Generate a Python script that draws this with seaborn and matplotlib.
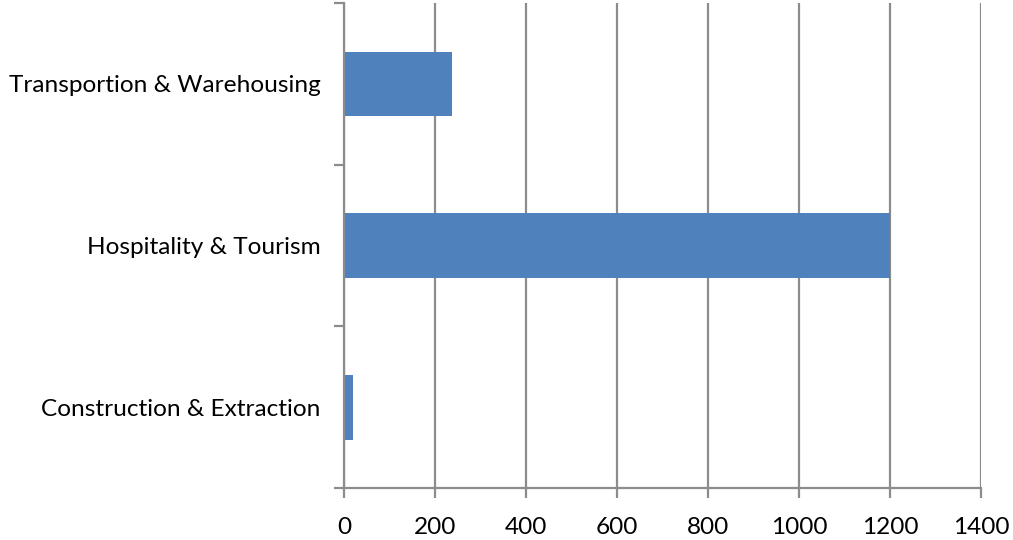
import matplotlib
matplotlib.use("Agg")
import matplotlib.pyplot as plt
import seaborn as sns
import pandas as pd
from matplotlib.ticker import FixedLocator

# data
sectors = ["Transportion & Warehousing", "Hospitality & Tourism", "Construction & Extraction"]
jobs = [237, 1200, 20]
x_ticks = [0, 200, 400, 600, 800, 1000, 1200, 1400]

df = pd.DataFrame({"sector": sectors, "jobs": jobs})

sns.set_theme(style="white")
plt.rcParams["font.family"] = ["Lato", "DejaVu Sans"]

fig = plt.figure(figsize=(10.13, 5.4), dpi=100)
ax = fig.add_axes([344 / 1013, 1 - 488 / 540, (981 - 344) / 1013, (488 - 3) / 540])

sns.barplot(data=df, x="jobs", y="sector", order=sectors, color="#4f81bd",
            width=0.4, saturation=1, linewidth=0, ax=ax, zorder=3)

grid_col = "#8c8c8c"
ax.set_xlim(0, 1400)
ax.set_ylim(2.5, -0.5)
ax.set_xticks(x_ticks)
ax.set_xticklabels([str(v) for v in x_ticks])
ax.xaxis.grid(True, color=grid_col, linewidth=1.6, zorder=0)
ax.set_axisbelow(True)

# category boundary ticks on the y axis
ax.yaxis.set_minor_locator(FixedLocator([-0.5, 0.5, 1.5, 2.5]))
ax.tick_params(axis="y", which="major", length=0, pad=17, labelsize=17.6, labelcolor="black")
ax.tick_params(axis="y", which="minor", left=True, length=7, width=1.6, color=grid_col)
ax.tick_params(axis="x", which="major", bottom=True, length=7, width=1.6, color=grid_col,
               pad=14, labelsize=17.6, labelcolor="black")

for side in ["top", "right"]:
    ax.spines[side].set_visible(False)
for side in ["left", "bottom"]:
    ax.spines[side].set_color(grid_col)
    ax.spines[side].set_linewidth(1.6)
    ax.spines[side].set_zorder(5)

ax.set_xlabel("")
ax.set_ylabel("")

plt.savefig("out.png", dpi=100)
